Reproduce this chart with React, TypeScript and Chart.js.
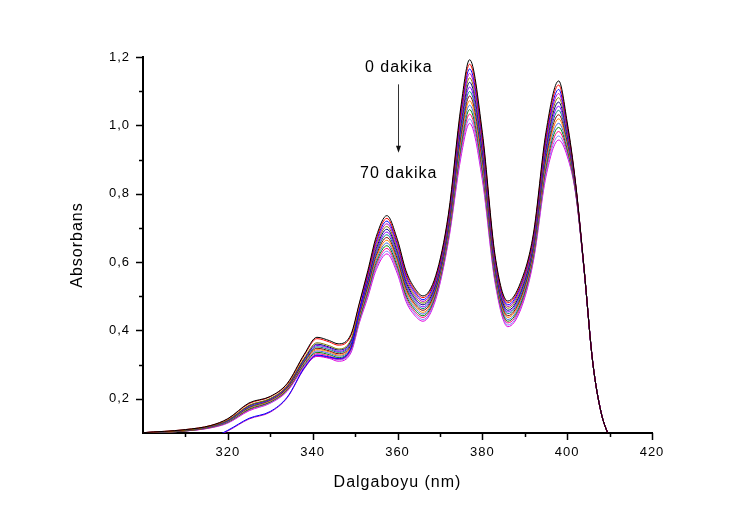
import React, { useEffect, useRef } from 'react';
import { Chart, registerables } from 'chart.js';

Chart.register(...registerables);

const WAVELENGTHS = [300, 310, 316, 320, 325, 330, 334, 338, 341, 344, 346, 349, 351, 353, 355, 357.5, 360, 362, 364, 366, 369, 372, 375, 377, 380, 383, 386, 389, 392, 395, 398, 400, 402, 404, 406, 408, 410];

// Absorbance spectra, every 5 minutes from 0 to 70 min
const t0 = [0.101, 0.110, 0.122, 0.142, 0.188, 0.207, 0.245, 0.330, 0.380, 0.370, 0.361, 0.388, 0.480, 0.575, 0.675, 0.736, 0.665, 0.575, 0.525, 0.501, 0.560, 0.740, 1.060, 1.192, 0.980, 0.620, 0.486, 0.540, 0.680, 0.980, 1.130, 1.010, 0.830, 0.580, 0.310, 0.160, 0.085];
const t5 = [0.101, 0.110, 0.122, 0.141, 0.186, 0.206, 0.243, 0.327, 0.376, 0.366, 0.357, 0.384, 0.476, 0.569, 0.668, 0.728, 0.658, 0.569, 0.519, 0.496, 0.555, 0.734, 1.049, 1.179, 0.970, 0.614, 0.481, 0.534, 0.674, 0.971, 1.118, 1.003, 0.828, 0.580, 0.310, 0.160, 0.085];
const t10 = [0.050, 0.070, 0.085, 0.108, 0.143, 0.163, 0.205, 0.290, 0.328, 0.322, 0.318, 0.348, 0.458, 0.564, 0.661, 0.720, 0.651, 0.562, 0.514, 0.490, 0.550, 0.729, 1.039, 1.165, 0.960, 0.609, 0.475, 0.529, 0.669, 0.961, 1.105, 0.996, 0.826, 0.579, 0.310, 0.160, 0.085];
const t15 = [0.048, 0.068, 0.083, 0.106, 0.141, 0.161, 0.203, 0.288, 0.326, 0.320, 0.316, 0.346, 0.455, 0.558, 0.654, 0.712, 0.644, 0.556, 0.508, 0.485, 0.545, 0.723, 1.028, 1.152, 0.950, 0.603, 0.470, 0.523, 0.663, 0.952, 1.093, 0.989, 0.824, 0.579, 0.310, 0.160, 0.085];
const t20 = [0.101, 0.108, 0.120, 0.138, 0.181, 0.201, 0.238, 0.319, 0.364, 0.355, 0.346, 0.373, 0.463, 0.553, 0.647, 0.704, 0.636, 0.549, 0.502, 0.480, 0.540, 0.717, 1.017, 1.139, 0.940, 0.597, 0.465, 0.517, 0.657, 0.943, 1.081, 0.981, 0.821, 0.579, 0.310, 0.160, 0.085];
const t25 = [0.101, 0.108, 0.120, 0.137, 0.180, 0.200, 0.237, 0.316, 0.360, 0.351, 0.343, 0.369, 0.459, 0.547, 0.640, 0.696, 0.629, 0.543, 0.496, 0.475, 0.535, 0.711, 1.006, 1.126, 0.930, 0.591, 0.459, 0.511, 0.651, 0.934, 1.068, 0.974, 0.819, 0.578, 0.310, 0.160, 0.085];
const t30 = [0.101, 0.108, 0.119, 0.136, 0.178, 0.198, 0.235, 0.314, 0.356, 0.348, 0.339, 0.365, 0.455, 0.542, 0.633, 0.688, 0.622, 0.536, 0.491, 0.469, 0.530, 0.706, 0.996, 1.112, 0.920, 0.586, 0.454, 0.506, 0.646, 0.924, 1.056, 0.967, 0.817, 0.578, 0.310, 0.160, 0.085];
const t35 = [0.100, 0.108, 0.119, 0.135, 0.176, 0.197, 0.234, 0.311, 0.352, 0.344, 0.336, 0.361, 0.451, 0.536, 0.627, 0.680, 0.615, 0.530, 0.485, 0.464, 0.525, 0.700, 0.985, 1.099, 0.910, 0.580, 0.449, 0.500, 0.640, 0.915, 1.044, 0.960, 0.815, 0.578, 0.310, 0.160, 0.085];
const t40 = [0.100, 0.107, 0.118, 0.135, 0.175, 0.196, 0.232, 0.308, 0.348, 0.340, 0.332, 0.357, 0.447, 0.530, 0.620, 0.672, 0.608, 0.524, 0.479, 0.459, 0.520, 0.694, 0.974, 1.086, 0.900, 0.574, 0.443, 0.494, 0.634, 0.906, 1.031, 0.953, 0.813, 0.577, 0.310, 0.160, 0.085];
const t45 = [0.100, 0.107, 0.118, 0.134, 0.173, 0.194, 0.230, 0.306, 0.344, 0.337, 0.328, 0.353, 0.443, 0.525, 0.613, 0.664, 0.601, 0.517, 0.474, 0.453, 0.515, 0.689, 0.964, 1.072, 0.890, 0.569, 0.438, 0.489, 0.629, 0.896, 1.019, 0.946, 0.811, 0.577, 0.310, 0.160, 0.085];
const t50 = [0.100, 0.107, 0.117, 0.133, 0.172, 0.193, 0.229, 0.303, 0.340, 0.333, 0.325, 0.349, 0.439, 0.519, 0.606, 0.656, 0.594, 0.511, 0.468, 0.448, 0.510, 0.683, 0.953, 1.059, 0.880, 0.563, 0.432, 0.483, 0.623, 0.887, 1.006, 0.939, 0.809, 0.577, 0.310, 0.160, 0.085];
const t55 = [0.100, 0.106, 0.117, 0.132, 0.170, 0.191, 0.227, 0.300, 0.336, 0.329, 0.321, 0.346, 0.434, 0.514, 0.599, 0.648, 0.586, 0.504, 0.462, 0.443, 0.505, 0.677, 0.942, 1.046, 0.870, 0.557, 0.427, 0.477, 0.617, 0.878, 0.994, 0.931, 0.806, 0.576, 0.310, 0.160, 0.085];
const t60 = [0.100, 0.106, 0.116, 0.131, 0.168, 0.190, 0.225, 0.297, 0.332, 0.325, 0.317, 0.342, 0.430, 0.508, 0.592, 0.640, 0.579, 0.498, 0.456, 0.438, 0.500, 0.671, 0.931, 1.033, 0.860, 0.551, 0.422, 0.471, 0.611, 0.869, 0.982, 0.924, 0.804, 0.576, 0.310, 0.160, 0.085];
const t65 = [0.100, 0.106, 0.116, 0.130, 0.167, 0.188, 0.224, 0.295, 0.328, 0.322, 0.314, 0.338, 0.426, 0.503, 0.585, 0.632, 0.572, 0.491, 0.451, 0.432, 0.495, 0.666, 0.921, 1.019, 0.850, 0.546, 0.416, 0.466, 0.606, 0.859, 0.969, 0.917, 0.802, 0.575, 0.310, 0.160, 0.085];
const t70 = [0.100, 0.106, 0.115, 0.129, 0.165, 0.187, 0.222, 0.292, 0.324, 0.318, 0.310, 0.334, 0.422, 0.497, 0.578, 0.624, 0.565, 0.485, 0.445, 0.427, 0.490, 0.660, 0.910, 1.006, 0.840, 0.540, 0.411, 0.460, 0.600, 0.850, 0.957, 0.910, 0.800, 0.575, 0.310, 0.160, 0.085];

const SERIES = [t0, t5, t10, t15, t20, t25, t30, t35, t40, t45, t50, t55, t60, t65, t70];
const SERIES_NAMES = ['0 dk', '5 dk', '10 dk', '15 dk', '20 dk', '25 dk', '30 dk', '35 dk', '40 dk', '45 dk', '50 dk', '55 dk', '60 dk', '65 dk', '70 dk'];

const X_LABELED = [320, 340, 360, 380, 400, 420];
const Y_LABELED = [0.2, 0.4, 0.6, 0.8, 1.0, 1.2];

const X_TITLE = 'Dalgaboyu (nm)';
const Y_TITLE = 'Absorbans';
const NOTE_START = '0 dakika';
const NOTE_END = '70 dakika';

const COLORS = ['#000000', '#ff0000', '#0000ff', '#c000c0', '#808000', '#000080', '#8000ff', '#008080', '#800000', '#ff8000', '#4169e1', '#008000', '#ff0080', '#8080ff', '#e000e0'];
const FONT = '"Liberation Sans", Arial, Helvetica, sans-serif';

const X_MIN = 300, X_MAX = 420, Y_MIN = 0.1, Y_MAX = 1.2;

const decorPlugin = {
  id: 'decor',
  beforeDraw(chart: any) {
    chart.ctx.letterSpacing = '1px';
  },
  afterDraw(chart: any) {
    const { ctx, chartArea } = chart;
    const x = chart.scales.x;
    const y = chart.scales.y;
    ctx.save();
    ctx.strokeStyle = '#000';
    ctx.lineWidth = 1.5;
    ctx.beginPath();
    x.ticks.forEach((t: any) => {
      if (t.value <= X_MIN) return;
      const major = Math.round(t.value) % 20 === 0;
      const px = Math.round(x.getPixelForValue(t.value)) + 0.5;
      ctx.moveTo(px, chartArea.bottom);
      ctx.lineTo(px, chartArea.bottom + (major ? 7 : 4));
    });
    y.ticks.forEach((t: any) => {
      const v = Math.round(t.value * 10);
      if (v <= Math.round(Y_MIN * 10)) return;
      const major = v % 2 === 0;
      const py = Math.round(y.getPixelForValue(t.value)) + 0.5;
      ctx.moveTo(chartArea.left, py);
      ctx.lineTo(chartArea.left - (major ? 7 : 4), py);
    });
    ctx.stroke();

    // annotation: 0 dakika -> 70 dakika
    ctx.font = '16px ' + FONT;
    ctx.fillStyle = '#000';
    ctx.textAlign = 'center';
    ctx.textBaseline = 'middle';
    ctx.letterSpacing = '1px';
    ctx.fillText(NOTE_START, x.getPixelForValue(360.3), y.getPixelForValue(1.168));
    ctx.fillText(NOTE_END, x.getPixelForValue(360.3), y.getPixelForValue(0.858));
    const ax = Math.round(x.getPixelForValue(360.1)) + 0.5;
    const ay0 = y.getPixelForValue(1.12);
    const ay1 = y.getPixelForValue(0.92);
    ctx.strokeStyle = '#333';
    ctx.lineWidth = 1;
    ctx.beginPath();
    ctx.moveTo(ax, ay0);
    ctx.lineTo(ax, ay1 - 6);
    ctx.stroke();
    ctx.fillStyle = '#111';
    ctx.beginPath();
    ctx.moveTo(ax - 2.5, ay1 - 7);
    ctx.lineTo(ax + 2.5, ay1 - 7);
    ctx.lineTo(ax, ay1);
    ctx.closePath();
    ctx.fill();
    ctx.restore();
    ctx.letterSpacing = '0px';
  },
};

export default function App() {
  const ref = useRef<HTMLCanvasElement>(null);
  useEffect(() => {
    const canvas = ref.current;
    if (!canvas) return;
    const chart = new Chart(canvas, {
      type: 'line',
      data: {
        datasets: SERIES.map((s, i) => ({
          label: SERIES_NAMES[i],
          data: WAVELENGTHS.map((w, j) => ({ x: w, y: s[j] })),
          borderColor: COLORS[i],
          borderWidth: 1,
          pointRadius: 0,
          fill: false,
          cubicInterpolationMode: 'monotone' as const,
        })),
      },
      options: {
        animation: false,
        responsive: true,
        maintainAspectRatio: false,
        devicePixelRatio: 1,
        layout: { padding: { top: 57, right: 89, left: 0, bottom: 0 } },
        plugins: { legend: { display: false }, tooltip: { enabled: false } },
        scales: {
          x: {
            type: 'linear',
            min: X_MIN,
            max: X_MAX,
            afterFit: (s: any) => { s.height = 94; },
            grid: { display: false, drawTicks: false },
            border: { display: true, color: '#000', width: 2 },
            ticks: {
              stepSize: 10,
              autoSkip: false,
              maxRotation: 0,
              padding: 12,
              color: '#000',
              font: { family: FONT, size: 13 },
              callback: (v: any) => (X_LABELED.includes(Math.round(Number(v))) ? String(Math.round(Number(v))) : ''),
            },
            title: {
              display: true,
              text: X_TITLE,
              color: '#000',
              font: { family: FONT, size: 16 },
              padding: { top: 0, bottom: 35 },
            },
          },
          y: {
            type: 'linear',
            min: Y_MIN,
            max: Y_MAX,
            afterFit: (s: any) => { s.width = 143; },
            grid: { display: false, drawTicks: false },
            border: { display: true, color: '#000', width: 2 },
            ticks: {
              stepSize: 0.1,
              autoSkip: false,
              padding: 13,
              color: '#000',
              font: { family: FONT, size: 13 },
              callback: (v: any) => {
                const n = Math.round(Number(v) * 10) / 10;
                return Y_LABELED.some((l) => Math.abs(l - n) < 1e-6) ? n.toFixed(1).replace('.', ',') : '';
              },
            },
            title: {
              display: true,
              text: Y_TITLE,
              color: '#000',
              font: { family: FONT, size: 16 },
              padding: { top: 68, bottom: 0 },
            },
          },
        },
      },
      plugins: [decorPlugin],
    });
    return () => chart.destroy();
  }, []);
  return (
    <div style={{ position: 'absolute', left: 0, top: 0, width: 741, height: 527, background: '#fff' }}>
      <canvas ref={ref} />
    </div>
  );
}
